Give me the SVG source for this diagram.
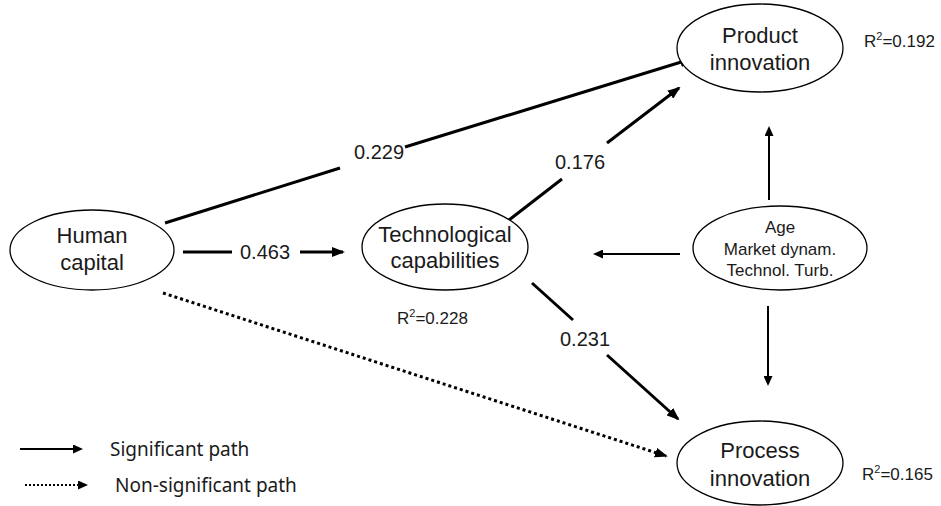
<svg xmlns="http://www.w3.org/2000/svg" width="941" height="506" viewBox="0 0 941 506">
<style>
.node{fill:#fff;stroke:#000;stroke-width:1.3}
.nt{font-family:"Liberation Sans",Arial,sans-serif;font-size:22px;fill:#1a1a1a;text-anchor:middle}
.ct{font-family:"Liberation Sans",Arial,sans-serif;font-size:17px;fill:#1a1a1a;text-anchor:middle}
.lbl{font-family:"Liberation Sans",Arial,sans-serif;font-size:20px;fill:#1a1a1a;text-anchor:middle}
.r2{font-family:"Liberation Sans",Arial,sans-serif;font-size:17px;fill:#1a1a1a}
.leg{font-family:"Noto Sans","Open Sans",sans-serif;font-size:19px;fill:#1a1a1a}
.thick{stroke:#000;stroke-width:3;fill:none}
.thin{stroke:#000;stroke-width:2;fill:none}
.dot{stroke:#000;stroke-width:3;stroke-dasharray:3 3;fill:none}
</style>
<defs>
<marker id="ah" markerUnits="userSpaceOnUse" markerWidth="13" markerHeight="10" refX="11" refY="5" orient="auto"><path d="M0,0 L13,5 L0,10 z" fill="#000"/></marker>
<marker id="as" markerUnits="userSpaceOnUse" markerWidth="10" markerHeight="9" refX="8" refY="4.5" orient="auto"><path d="M0,0 L10,4.5 L0,9 z" fill="#000"/></marker>
</defs>
<g id="connectors">
<line class="thick" x1="183" y1="252" x2="232" y2="252"/>
<text class="lbl" x="265" y="259">0.463</text>
<line class="thick" x1="300" y1="252" x2="343" y2="252" marker-end="url(#ah)"/>
<line class="thick" x1="165" y1="223" x2="340" y2="168"/>
<text class="lbl" x="379" y="159">0.229</text>
<line class="thick" x1="405" y1="147" x2="691" y2="59" marker-end="url(#ah)"/>
<line class="thick" x1="509" y1="220" x2="562" y2="179"/>
<text class="lbl" x="580" y="169">0.176</text>
<line class="thick" x1="607" y1="143" x2="679" y2="88" marker-end="url(#ah)"/>
<line class="thick" x1="532" y1="283" x2="573" y2="320"/>
<text class="lbl" x="585" y="346">0.231</text>
<line class="thick" x1="607" y1="355" x2="678" y2="419" marker-end="url(#ah)"/>
<line class="dot" x1="163" y1="293" x2="666" y2="456" marker-end="url(#ah)"/>
<line class="thin" x1="769" y1="200" x2="769" y2="128" marker-end="url(#as)"/>
<line class="thin" x1="680" y1="254" x2="595" y2="254" marker-end="url(#as)"/>
<line class="thin" x1="768" y1="306" x2="768" y2="384" marker-end="url(#as)"/>
</g>
<g id="human-capital">
<ellipse class="node" cx="92" cy="250" rx="82" ry="40"/>
<text class="nt" x="92" y="243">Human</text>
<text class="nt" x="92" y="270">capital</text>
</g>
<g id="technological-capabilities">
<ellipse class="node" cx="445" cy="247" rx="83" ry="43"/>
<text class="nt" x="445" y="242">Technological</text>
<text class="nt" x="445" y="268">capabilities</text>
<text class="r2" x="397" y="324">R<tspan font-size="11" dy="-7">2</tspan><tspan dy="7">=0.228</tspan></text>
</g>
<g id="product-innovation">
<ellipse class="node" cx="760" cy="48" rx="83" ry="44"/>
<text class="nt" x="760" y="43">Product</text>
<text class="nt" x="760" y="70">innovation</text>
<text class="r2" x="864" y="47">R<tspan font-size="11" dy="-7">2</tspan><tspan dy="7">=0.192</tspan></text>
</g>
<g id="controls">
<ellipse class="node" cx="780" cy="248" rx="87" ry="42"/>
<text class="ct" x="780" y="233">Age</text>
<text class="ct" x="780" y="255">Market dynam.</text>
<text class="ct" x="780" y="276">Technol. Turb.</text>
</g>
<g id="process-innovation">
<ellipse class="node" cx="760" cy="463" rx="83" ry="42"/>
<text class="nt" x="760" y="458">Process</text>
<text class="nt" x="760" y="486">innovation</text>
<text class="r2" x="862" y="480">R<tspan font-size="11" dy="-7">2</tspan><tspan dy="7">=0.165</tspan></text>
</g>
<g id="legend">
<line class="thin" x1="20" y1="449" x2="81" y2="449" marker-end="url(#as)"/>
<text class="leg" x="110" y="456">Significant path</text>
<line class="thin" x1="25" y1="485" x2="86" y2="485" stroke-dasharray="2 2" marker-end="url(#as)"/>
<text class="leg" x="115" y="492">Non-significant path</text>
</g>
</svg>
